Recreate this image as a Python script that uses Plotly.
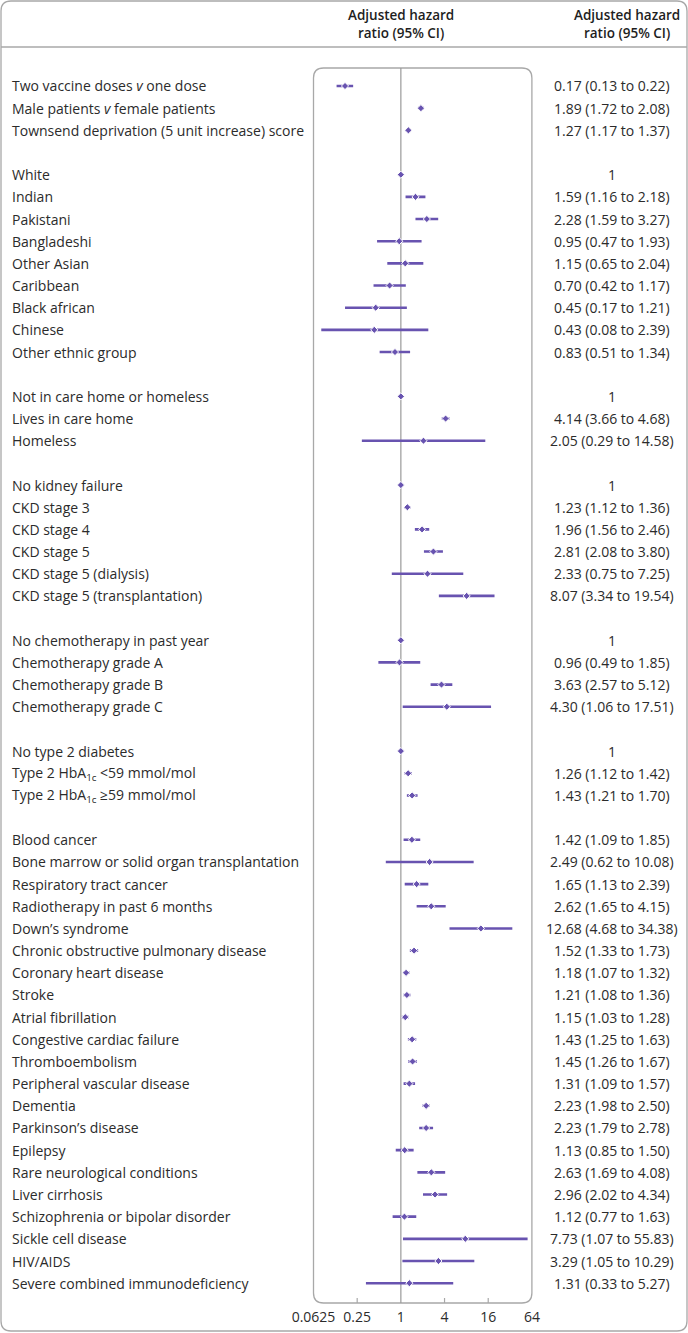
import math
import plotly.graph_objects as go

W, H = 688, 1333

# ---------------- data ----------------
labels = [
    "Two vaccine doses <i>v</i> one dose",
    "Male patients <i>v</i> female patients",
    "Townsend deprivation (5 unit increase) score",
    None,
    "White", "Indian", "Pakistani", "Bangladeshi", "Other Asian", "Caribbean",
    "Black african", "Chinese", "Other ethnic group",
    None,
    "Not in care home or homeless", "Lives in care home", "Homeless",
    None,
    "No kidney failure", "CKD stage 3", "CKD stage 4", "CKD stage 5",
    "CKD stage 5 (dialysis)", "CKD stage 5 (transplantation)",
    None,
    "No chemotherapy in past year", "Chemotherapy grade A", "Chemotherapy grade B",
    "Chemotherapy grade C",
    None,
    "No type 2 diabetes", "Type 2 HbA<sub>1c</sub> &lt;59 mmol/mol",
    "Type 2 HbA<sub>1c</sub> ≥59 mmol/mol",
    None,
    "Blood cancer", "Bone marrow or solid organ transplantation",
    "Respiratory tract cancer", "Radiotherapy in past 6 months", "Down’s syndrome",
    "Chronic obstructive pulmonary disease", "Coronary heart disease", "Stroke",
    "Atrial fibrillation", "Congestive cardiac failure", "Thromboembolism",
    "Peripheral vascular disease", "Dementia", "Parkinson’s disease", "Epilepsy",
    "Rare neurological conditions", "Liver cirrhosis",
    "Schizophrenia or bipolar disorder", "Sickle cell disease", "HIV/AIDS",
    "Severe combined immunodeficiency",
]
hr = [0.17, 1.89, 1.27, None,
      1, 1.59, 2.28, 0.95, 1.15, 0.70, 0.45, 0.43, 0.83, None,
      1, 4.14, 2.05, None,
      1, 1.23, 1.96, 2.81, 2.33, 8.07, None,
      1, 0.96, 3.63, 4.30, None,
      1, 1.26, 1.43, None,
      1.42, 2.49, 1.65, 2.62, 12.68, 1.52, 1.18, 1.21, 1.15, 1.43, 1.45, 1.31,
      2.23, 2.23, 1.13, 2.63, 2.96, 1.12, 7.73, 3.29, 1.31]
lo = [0.13, 1.72, 1.17, None,
      None, 1.16, 1.59, 0.47, 0.65, 0.42, 0.17, 0.08, 0.51, None,
      None, 3.66, 0.29, None,
      None, 1.12, 1.56, 2.08, 0.75, 3.34, None,
      None, 0.49, 2.57, 1.06, None,
      None, 1.12, 1.21, None,
      1.09, 0.62, 1.13, 1.65, 4.68, 1.33, 1.07, 1.08, 1.03, 1.25, 1.26, 1.09,
      1.98, 1.79, 0.85, 1.69, 2.02, 0.77, 1.07, 1.05, 0.33]
hi = [0.22, 2.08, 1.37, None,
      None, 2.18, 3.27, 1.93, 2.04, 1.17, 1.21, 2.39, 1.34, None,
      None, 4.68, 14.58, None,
      None, 1.36, 2.46, 3.80, 7.25, 19.54, None,
      None, 1.85, 5.12, 17.51, None,
      None, 1.42, 1.70, None,
      1.85, 10.08, 2.39, 4.15, 34.38, 1.73, 1.32, 1.36, 1.28, 1.63, 1.67, 1.57,
      2.50, 2.78, 1.50, 4.08, 4.34, 1.63, 55.83, 10.29, 5.27]
tick_vals = [0.0625, 0.25, 1, 4, 16, 64]
tick_text = ["0.0625", "0.25", "1", "4", "16", "64"]
header = "Adjusted hazard<br>ratio (95% CI)"

# ---------------- layout helpers ----------------
PURPLE = "#6853b0"
TEXT = "#2b2b2b"
GREY = "#a8a8a8"
FONT = "Open Sans"

ROW0, ROWH = 86.0, 22.17
PX_L, PX_R = 313.5, 531.9
PY_T, PY_B = 68.0, 1303.0


def px(x):
    return x / W


def py(y):
    return 1 - y / H


def rrect(x0, y0, x1, y1, r):
    pts = [
        f"M {px(x0 + r)},{py(y0)}",
        f"L {px(x1 - r)},{py(y0)}",
        f"Q {px(x1)},{py(y0)} {px(x1)},{py(y0 + r)}",
        f"L {px(x1)},{py(y1 - r)}",
        f"Q {px(x1)},{py(y1)} {px(x1 - r)},{py(y1)}",
        f"L {px(x0 + r)},{py(y1)}",
        f"Q {px(x0)},{py(y1)} {px(x0)},{py(y1 - r)}",
        f"L {px(x0)},{py(y0 + r)}",
        f"Q {px(x0)},{py(y0)} {px(x0 + r)},{py(y0)}",
        "Z",
    ]
    return " ".join(pts)


n = len(labels)
rows = list(range(n))

xs, ys, ep, em = [], [], [], []
for i in rows:
    if hr[i] is None:
        continue
    xs.append(hr[i])
    ys.append(i)
    if lo[i] is None:
        ep.append(0)
        em.append(0)
    else:
        ep.append(hi[i] - hr[i])
        em.append(hr[i] - lo[i])

fig = go.Figure()
fig.add_trace(go.Scatter(
    x=xs, y=ys, mode="markers",
    marker=dict(symbol="diamond", size=5.5, color=PURPLE,
                line=dict(color="white", width=1.0)),
    error_x=dict(type="data", array=ep, arrayminus=em, symmetric=False,
                 color=PURPLE, thickness=2.6, width=0),
    hoverinfo="skip", showlegend=False,
))

annotations = []
for i in rows:
    if labels[i] is None:
        continue
    y_pix = ROW0 + i * ROWH
    annotations.append(dict(
        x=px(10), y=py(y_pix), xref="paper", yref="paper",
        text=labels[i], showarrow=False, xanchor="left", yanchor="middle",
        font=dict(family=FONT, size=14, color=TEXT)))
    if lo[i] is None:
        rt = "1"
    else:
        rt = f"{hr[i]:.2f} ({lo[i]:.2f} to {hi[i]:.2f})"
    annotations.append(dict(
        x=px(612), y=py(y_pix), xref="paper", yref="paper",
        text=rt, showarrow=False, xanchor="center", yanchor="middle",
        font=dict(family=FONT, size=14, color=TEXT)))

for xc in (401, 627):
    annotations.append(dict(
        x=px(xc), y=py(24), xref="paper", yref="paper", text=header,
        showarrow=False, xanchor="center", yanchor="middle", align="center",
        font=dict(family=FONT, size=13.5, color="#1e1e1e", weight=600)))

shapes = [
    dict(type="path", xref="paper", yref="paper", path=rrect(1, 1, 687, 1331, 10),
         line=dict(color=GREY, width=1.3), layer="below"),
    dict(type="line", xref="paper", yref="paper", x0=px(1), x1=px(687),
         y0=py(47), y1=py(47), line=dict(color=GREY, width=1.3)),
    dict(type="path", xref="paper", yref="paper",
         path=rrect(PX_L, PY_T, PX_R, PY_B, 10),
         line=dict(color=GREY, width=1.3), layer="below"),
    dict(type="line", xref="x", yref="paper", x0=1, x1=1,
         y0=py(PY_B), y1=py(PY_T), line=dict(color="#9a9a9a", width=1.2),
         layer="below"),
]
for tv in tick_vals[1:-1]:
    if tv == 1:
        continue
    shapes.append(dict(type="line", xref="x", yref="paper", x0=tv, x1=tv,
                       y0=py(PY_B), y1=py(PY_B - 5),
                       line=dict(color=GREY, width=1.2)))

y_top = -(ROW0 - PY_T) / ROWH
y_bot = (PY_B - ROW0) / ROWH

fig.update_layout(
    template="none",
    width=W, height=H, autosize=False,
    margin=dict(l=0, r=0, t=0, b=0, pad=0, autoexpand=False),
    paper_bgcolor="white", plot_bgcolor="rgba(0,0,0,0)",
    xaxis=dict(type="log", domain=[px(PX_L), px(PX_R)],
               range=[math.log10(0.0625), math.log10(64)],
               tickvals=tick_vals, ticktext=tick_text, ticks="",
               ticklabelstandoff=4,
               showgrid=False, zeroline=False, showline=False, automargin=False,
               tickfont=dict(family=FONT, size=14, color=TEXT)),
    yaxis=dict(domain=[py(PY_B), py(PY_T)], range=[y_bot, y_top],
               showgrid=False, zeroline=False, showline=False, automargin=False,
               showticklabels=False, ticks=""),
    annotations=annotations, shapes=shapes,
)

fig.write_html(
    "out.html",
    config={"displayModeBar": False},
    post_script="document.body.style.margin='0';document.body.style.padding='0';",
)
